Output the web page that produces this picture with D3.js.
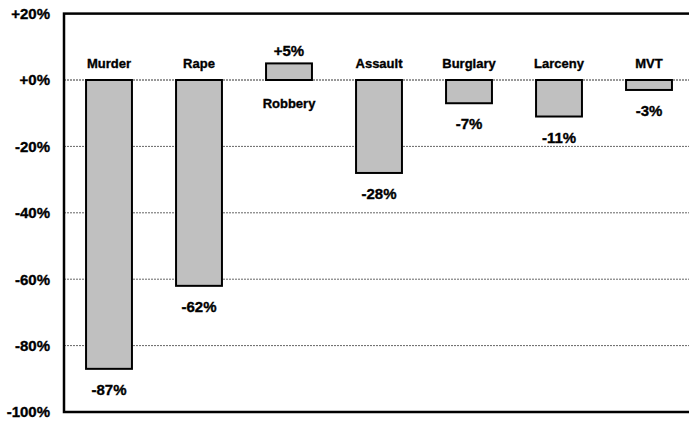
<!DOCTYPE html>
<html>
<head>
<meta charset="utf-8">
<script src="https://cdn.jsdelivr.net/npm/d3@7"></script>
<style>
  body { margin: 0; background: #fff; }
  svg text { font-family: "Liberation Sans", Arial, sans-serif; font-weight: bold; fill: #000; stroke: #000; stroke-width: 0.35px; }
</style>
</head>
<body>
<div id="chart"></div>
<script>
'use strict';

const crimes = ['Murder', 'Rape', 'Robbery', 'Assault', 'Burglary', 'Larceny', 'MVT'];
const changes = [-87, -62, 5, -28, -7, -11, -3];
const yTicks = [20, 0, -20, -40, -60, -80, -100];

(function() {
    let width = 689,
        height = 422,
        left = 64,
        top = 13.6,
        bottom = 412;

    let svg = d3.select('#chart')
        .append('svg')
        .attr('width', width)
        .attr('height', height);

    // plot runs past the right edge of the picture
    let x = d3.scaleBand()
        .domain(crimes)
        .range([left, left + 630])
        .paddingInner(0.49)
        .paddingOuter(0.245);

    let y = d3.scaleLinear()
        .domain([-100, 20])
        .range([bottom, top]);

    // grid lines
    svg.selectAll('.grid')
        .data(yTicks.filter(d => d > -100 && d < 20))
        .enter().append('line')
        .attr('class', 'grid')
        .attr('x1', left)
        .attr('x2', width)
        .attr('y1', d => y(d))
        .attr('y2', d => y(d))
        .attr('stroke', d => d === 0 ? '#333' : '#666')
        .attr('stroke-width', 1)
        .attr('stroke-dasharray', '2,1');

    // y axis labels
    let yAxis = d3.axisLeft(y)
        .tickValues(yTicks)
        .tickSize(0)
        .tickPadding(14)
        .tickFormat(d => (d >= 0 ? '+' : '') + d + '%');

    let axisG = svg.append('g')
        .attr('transform', 'translate(' + left + ',0)')
        .call(yAxis)
        .attr('font-family', '"Liberation Sans", Arial, sans-serif')
        .attr('font-size', 15)
        .attr('font-weight', 'bold');
    axisG.select('.domain').remove();
    axisG.selectAll('text')
        .attr('fill', '#000')
        .style('font-size', '15px');

    let data = crimes.map((c, i) => ({ name: c, value: changes[i] }));

    svg.selectAll('.bar')
        .data(data)
        .enter().append('rect')
        .attr('class', 'bar')
        .attr('x', d => x(d.name))
        .attr('width', x.bandwidth())
        .attr('y', d => y(Math.max(0, d.value)))
        .attr('height', d => Math.abs(y(d.value) - y(0)))
        .attr('fill', '#c0c0c0')
        .attr('stroke', '#000')
        .attr('stroke-width', 2);

    // category names: above zero for falls, below for rises
    svg.selectAll('.cat')
        .data(data)
        .enter().append('text')
        .attr('class', 'cat')
        .attr('x', d => x(d.name) + x.bandwidth() / 2)
        .attr('y', d => d.value < 0 ? y(0) - 12 : y(0) + 28)
        .attr('text-anchor', 'middle')
        .style('font-size', '13px')
        .text(d => d.name);

    // value labels
    svg.selectAll('.val')
        .data(data)
        .enter().append('text')
        .attr('class', 'val')
        .attr('x', d => x(d.name) + x.bandwidth() / 2)
        .attr('y', d => d.value < 0 ? y(d.value) + 26 : y(d.value) - 7)
        .attr('text-anchor', 'middle')
        .style('font-size', '15px')
        .text(d => (d.value > 0 ? '+' : '') + d.value + '%');

    // frame
    svg.append('rect')
        .attr('x', left)
        .attr('y', top)
        .attr('width', width + 20 - left)
        .attr('height', bottom - top)
        .attr('fill', 'none')
        .attr('stroke', '#000')
        .attr('stroke-width', 2.5);
})();
</script>
</body>
</html>
